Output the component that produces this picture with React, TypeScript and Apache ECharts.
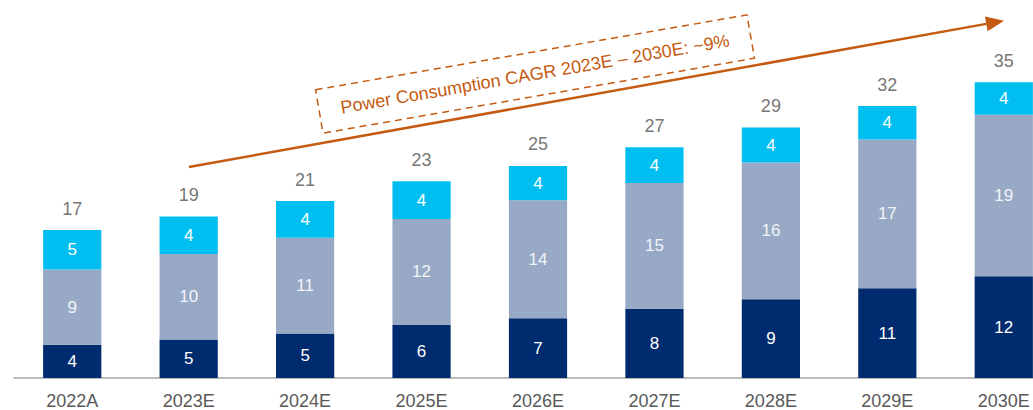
import React, { useEffect, useRef } from "react";
import * as echarts from "echarts";

const categories = ["2022A", "2023E", "2024E", "2025E", "2026E", "2027E", "2028E", "2029E", "2030E"];
const darkValues = [3.9, 4.5, 5.2, 6.2, 7.0, 8.1, 9.2, 10.5, 11.9];
const grayValues = [8.8, 10.0, 11.2, 12.4, 13.8, 14.7, 16.0, 17.4, 18.9];
const cyanValues = [4.6, 4.4, 4.3, 4.4, 4.0, 4.2, 4.1, 3.9, 3.8];
const totals = categories.map((_, i) => darkValues[i] + grayValues[i] + cyanValues[i]);
const annotationText = "Power Consumption CAGR 2023E \u2013 2030E: ~9%";

const ORANGE = "#c55a11";
const FONT = "'Liberation Sans', Arial, sans-serif";

export default function App() {
  const ref = useRef<HTMLDivElement>(null);
  useEffect(() => {
    if (!ref.current) return;
    const chart = echarts.init(ref.current, undefined, { renderer: "svg" });
    const insideLabel = (color: string) => ({
      show: true,
      position: "inside",
      color,
      fontSize: 17,
      fontFamily: FONT,
      formatter: (p: any) => String(Math.round(p.value)),
    });
    const tail = [189, 167];
    const tip = [1004, 20.7];
    const dx = tip[0] - tail[0];
    const dy = tip[1] - tail[1];
    const len = Math.sqrt(dx * dx + dy * dy);
    const ux = dx / len, uy = dy / len;
    const px = -uy, py = ux;
    const headLen = 18, headHalf = 7.5;
    const base = [tip[0] - ux * headLen, tip[1] - uy * headLen];
    const angle = (9.85 * Math.PI) / 180;

    chart.setOption({
      animation: false,
      textStyle: { fontFamily: FONT },
      grid: { left: 14, right: 0, top: 36, bottom: 30 },
      xAxis: {
        type: "category",
        data: categories,
        axisLine: { lineStyle: { color: "#a6a6a6", width: 1.5 } },
        axisTick: { show: false },
        axisLabel: { color: "#595959", fontSize: 18, margin: 14, fontFamily: FONT },
      },
      yAxis: {
        type: "value",
        min: 0,
        max: 40,
        show: false,
        splitLine: { show: false },
      },
      series: [
        {
          type: "bar",
          stack: "total",
          data: darkValues,
          barWidth: "50%",
          itemStyle: { color: "#002b6e" },
          label: insideLabel("#ffffff"),
        },
        {
          type: "bar",
          stack: "total",
          data: grayValues,
          barWidth: "50%",
          itemStyle: { color: "#98a9c6" },
          label: insideLabel("#f2f4f8"),
        },
        {
          type: "bar",
          stack: "total",
          data: cyanValues,
          barWidth: "50%",
          itemStyle: { color: "#00bff0" },
          label: insideLabel("#ffffff"),
        },
        {
          type: "scatter",
          data: totals,
          symbolSize: 1,
          itemStyle: { color: "rgba(0,0,0,0)" },
          z: 10,
          label: {
            show: true,
            position: "top",
            distance: 12,
            color: "#505050",
            fontSize: 18,
            fontFamily: FONT,
            formatter: (p: any) => String(Math.round(p.value)),
          },
        },
      ],
      graphic: [
        {
          type: "line",
          shape: { x1: tail[0], y1: tail[1], x2: base[0], y2: base[1] },
          style: { stroke: ORANGE, lineWidth: 2.5 },
        },
        {
          type: "polygon",
          shape: {
            points: [
              [tip[0], tip[1]],
              [base[0] + px * headHalf, base[1] + py * headHalf],
              [base[0] - px * headHalf, base[1] - py * headHalf],
            ],
          },
          style: { fill: ORANGE },
        },
        {
          type: "group",
          x: 535,
          y: 74,
          rotation: angle,
          children: [
            {
              type: "rect",
              shape: { x: -219, y: -22, width: 438, height: 44 },
              style: { fill: "none", stroke: ORANGE, lineWidth: 1.5, lineDash: [7, 5] },
            },
            {
              type: "text",
              x: 0,
              y: 0,
              style: {
                text: annotationText,
                fill: ORANGE,
                fontSize: 18,
                fontFamily: FONT,
                align: "center",
                verticalAlign: "middle",
              },
            },
          ],
        },
      ],
    });
    return () => chart.dispose();
  }, []);
  return (
    <div
      style={{ position: "absolute", left: 0, top: 0, width: 1033, height: 410, overflow: "hidden" }}
    >
      <div ref={ref} style={{ width: 1062, height: 410 }} />
    </div>
  );
}
